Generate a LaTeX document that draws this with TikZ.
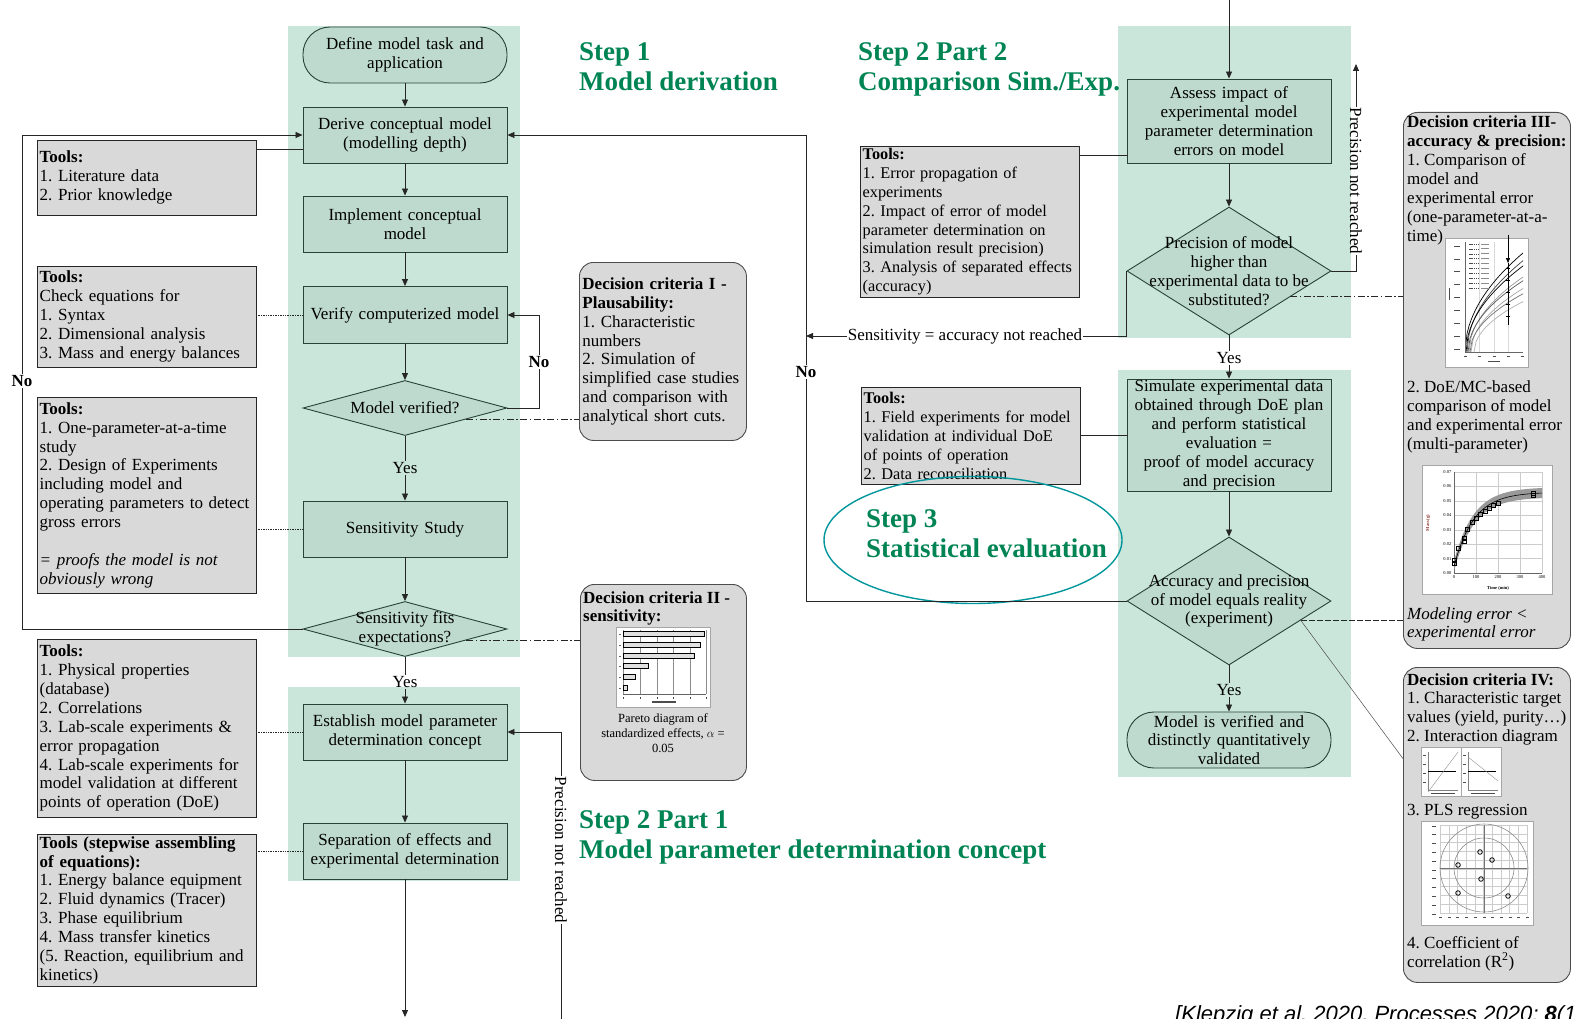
\documentclass[tikz,border=0pt]{standalone}
\usepackage{fontspec}
\setmainfont{Liberation Serif}
\newfontfamily\citefont{Liberation Sans}
\usetikzlibrary{arrows.meta,shapes.geometric,calc}
\frenchspacing

\definecolor{panelgreen}{RGB}{202,229,218}
\definecolor{nodegreen}{RGB}{190,218,206}
\definecolor{nodeline}{RGB}{40,66,54}
\definecolor{toolgray}{RGB}{217,217,217}
\definecolor{stepgreen}{RGB}{0,132,84}
\definecolor{ringteal}{RGB}{0,150,155}
\definecolor{axisred}{RGB}{140,50,40}

\newcommand{\boxfont}{\fontsize{17}{18.9}\selectfont}
\newcommand{\narrowfont}{\fontsize{16.3}{18.9}\selectfont}
\newcommand{\titlefont}{\bfseries\fontsize{27}{30}\selectfont}
\newcommand{\tickfont}{\fontsize{4.5}{5}\selectfont}

\tikzset{
  panel/.style={fill=panelgreen},
  process/.style={rectangle, draw=nodeline, fill=nodegreen, line width=0.9pt,
    minimum width=204pt, minimum height=56pt, text width=198pt, align=center,
    inner xsep=3pt, inner ysep=1pt, font=\boxfont},
  terminal/.style={process, rounded corners=27pt},
  decision/.style={diamond, draw=nodeline, fill=nodegreen, line width=0.9pt,
    minimum width=204pt, minimum height=#1, inner sep=0pt},
  decisiontext/.style={align=center, font=\boxfont, inner sep=0pt},
  toolbox/.style={rectangle, draw=black!85, fill=toolgray, anchor=north west,
    text width=214pt, align=left, inner xsep=2.5pt, inner ysep=1pt, font=\boxfont},
  critbox/.style={rectangle, rounded corners=14pt, draw=black!70, fill=toolgray,
    anchor=north west, line width=0.9pt},
  crittext/.style={anchor=north west, align=left, inner sep=0pt, font=\boxfont},
  flowlabel/.style={font=\boxfont, inner sep=1pt},
  nolabel/.style={font=\boxfont\bfseries, inner sep=1pt},
  steptitle/.style={anchor=north west, align=left, inner sep=0pt,
    text=stepgreen, font=\titlefont},
  flow/.style={draw=black!85, line width=0.8pt, -{Triangle[length=7pt,width=6pt]}},
  plain/.style={draw=black!85, line width=0.8pt},
  toollink/.style={draw=black!85, line width=0.7pt, densely dotted},
  critlink/.style={draw=black!85, line width=0.7pt,
    dash pattern=on 7pt off 2.5pt on 1.5pt off 2.5pt},
  chartframe/.style={fill=white, draw=black!35, line width=0.5pt},
  ticklabel/.style={font=\tickfont, inner sep=0.5pt}
}

\begin{document}
\begin{tikzpicture}[x=1pt, y=-1pt]

  \useasboundingbox (0,0) rectangle (1574,1019);

  \fill[panel] (288,26) rectangle (520,657);
  \fill[panel] (288,687) rectangle (520,881);
  \fill[panel] (1118,26) rectangle (1351,338);
  \fill[panel] (1118,370) rectangle (1351,777);

  \node[terminal] (define) at (405,55) {Define model task and\\application};
  \node[process] (derive) at (405,135) {Derive conceptual model\\(modelling depth)};
  \node[process] (implement) at (405,224) {Implement conceptual\\model};
  \node[process, minimum height=57pt] (verify) at (405,315) {Verify computerized model};
  \node[decision=55pt] (verified) at (405,408) {};
  \node[process] (sensitivity) at (405,529) {Sensitivity Study};
  \node[decision=55pt] (fits) at (405,629) {};
  \node[process] (establish) at (405,732) {Establish model parameter\\determination concept};
  \node[process] (separation) at (405,851) {Separation of effects and\\experimental determination};

  \node[process, minimum height=84pt] (assess) at (1229,121)
    {Assess impact of\\experimental model\\parameter determination\\errors on model};
  \node[decision=128pt] (precision) at (1229,271) {};
  \node[process, minimum height=111pt] (simulate) at (1229,435)
    {Simulate experimental data\\obtained through DoE plan\\and perform statistical\\evaluation =\\proof of model accuracy\\and precision};
  \node[decision=128pt] (accuracy) at (1229,601) {};
  \node[terminal, inner ysep=0pt] (validated) at (1229,740)
    {Model is verified and\\distinctly quantitatively\\validated};

  \node[decisiontext] (verified-text) at (verified) {Model verified?};
  \node[decisiontext] (fits-text) at (fits) {Sensitivity fits\\expectations?};
  \node[decisiontext] (precision-text) at (precision)
    {Precision of model\\higher than\\experimental data to be\\substituted?};
  \node[decisiontext] (accuracy-text) at (accuracy)
    {Accuracy and precision\\of model equals reality\\(experiment)};

  \node[toolbox, minimum height=75pt] (tools1) at (37,140)
    {\textbf{Tools:}\\1. Literature data\\2. Prior knowledge};
  \node[toolbox, minimum height=101pt] (tools2) at (37,266)
    {\textbf{Tools:}\\Check equations for\\1. Syntax\\2. Dimensional analysis\\3. Mass and energy balances};
  \node[toolbox, minimum height=196pt] (tools3) at (37,397)
    {\textbf{Tools:}\\1. One-parameter-at-a-time\\study\\2. Design of Experiments\\including model and\\operating parameters to detect\\gross errors\\[18.9pt]\textit{= proofs the model is not}\\\textit{obviously wrong}};
  \node[toolbox, minimum height=178pt] (tools4) at (37,639)
    {\textbf{Tools:}\\1. Physical properties\\(database)\\2. Correlations\\3. Lab-scale experiments \&\\error propagation\\4. Lab-scale experiments for\\model validation at different\\points of operation (DoE)};
  \node[toolbox, minimum height=152pt] (tools5) at (37,834)
    {\textbf{Tools (stepwise assembling}\\\textbf{of equations):}\\1. Energy balance equipment\\2. Fluid dynamics (Tracer)\\3. Phase equilibrium\\4. Mass transfer kinetics\\(5. Reaction, equilibrium and\\kinetics)};
  \node[toolbox, font=\narrowfont, minimum height=151pt] (tools6) at (860,146)
    {\textbf{Tools:}\\1. Error propagation of\\experiments\\2. Impact of error of model\\parameter determination on\\simulation result precision)\\3. Analysis of separated effects\\(accuracy)};
  \node[toolbox, font=\narrowfont, minimum height=97pt] (tools7) at (861,387)
    {\textbf{Tools:}\\1. Field experiments for model\\validation at individual DoE\\of points of operation\\2. Data reconciliation};

  \node[critbox, text width=161pt, align=left, inner xsep=3pt, font=\boxfont,
    minimum height=178pt] (crit1) at (579,262)
    {\textbf{Decision criteria I -}\\\textbf{Plausability:}\\1. Characteristic\\numbers\\2. Simulation of\\simplified case studies\\and comparison with\\analytical short cuts.};
  \node[critbox, minimum width=166pt, minimum height=196pt] (crit2) at (580,584) {};
  \node[critbox, minimum width=167pt, minimum height=536pt] (crit3) at (1403,112) {};
  \node[critbox, minimum width=167pt, minimum height=315pt] (crit4) at (1403,667) {};

  \node[crittext] (crit2-title) at (583,591)
    {\textbf{Decision criteria II -}\\\textbf{sensitivity:}};
  \node[align=center, inner sep=0pt, font=\fontsize{12.5}{15}\selectfont] (pareto-caption)
    at (663,733) {Pareto diagram of\\standardized effects, $\alpha$ =\\0.05};
  \node[crittext] (crit3-a) at (1407,116)
    {\textbf{Decision criteria III-}\\\textbf{accuracy \& precision:}\\1. Comparison of\\model and\\experimental error\\(one-parameter-at-a-\\time)};
  \node[crittext] (crit3-b) at (1407,381)
    {2. DoE/MC-based\\comparison of model\\and experimental error\\(multi-parameter)};
  \node[crittext, font=\boxfont\itshape] (crit3-c) at (1407,607)
    {Modeling error <\\experimental error};
  \node[crittext] (crit4-a) at (1407,673)
    {\textbf{Decision criteria IV:}\\1. Characteristic target\\values (yield, purity…)\\2. Interaction diagram};
  \node[crittext] (crit4-b) at (1407,804) {3. PLS regression};
  \node[crittext] (crit4-c) at (1407,936)
    {4. Coefficient of\\correlation (R\textsuperscript{2})};

  \node[steptitle] (step1) at (579,42) {Step 1\\Model derivation};
  \node[steptitle] (step22) at (858,42) {Step 2 Part 2\\Comparison Sim./Exp.};
  \node[steptitle] (step21) at (579,810) {Step 2 Part 1\\Model parameter determination concept};
  \node[steptitle] (step3) at (866,509) {Step 3\\Statistical evaluation};
  \node[ellipse, draw=ringteal, line width=1.4pt, minimum width=298pt,
    minimum height=127pt, inner sep=0pt] (step3-ring) at (973,540) {};

  \node[flowlabel] (yes1) at (405,468) {Yes};
  \node[flowlabel] (yes2) at (405,682) {Yes};
  \node[flowlabel] (yes3) at (1229,358) {Yes};
  \node[flowlabel] (yes4) at (1229,690) {Yes};
  \node[nolabel] (no-left) at (22,381) {No};
  \node[nolabel] (no-right) at (539,362) {No};
  \node[nolabel] (no-big) at (806,372) {No};
  \node[flowlabel] (sens-note) at (965,336) {Sensitivity = accuracy not reached};
  \node[flowlabel, rotate=-90] (prec-note-r) at (1356,181) {Precision not reached};
  \node[flowlabel, rotate=-90] (prec-note-l) at (561,850) {Precision not reached};

  \coordinate (page-top) at (1229,0);
  \coordinate (page-bottom) at (405,1017);
  \coordinate (sens-join) at (806,336);
  \coordinate (prec-top) at (1356,64);
  \coordinate (prec-bottom) at (561,1019);

  \begin{scope}[every edge/.style={flow}]
    \path (define) edge (derive);
    \path (derive) edge (implement);
    \path (implement) edge (verify);
    \path (verify) edge (verified);
    \path (yes1) edge (sensitivity);
    \path (sensitivity) edge (fits);
    \path (yes2) edge (establish);
    \path (establish) edge (separation);
    \path (separation) edge (page-bottom);
    \path (page-top) edge (assess);
    \path (assess) edge (precision);
    \path (yes3) edge (simulate);
    \path (simulate) edge (accuracy);
    \path (yes4) edge (validated);
  \end{scope}

  \draw[plain] (verified) -- (yes1);
  \draw[plain] (fits) -- (yes2);
  \draw[plain] (precision) -- (yes3);
  \draw[plain] (accuracy) -- (yes4);

  \draw[plain] (fits.west) -| (no-left.south);
  \draw[flow] (no-left.north) |- (derive.west);
  \draw[plain] (verified.east) -| (no-right.south);
  \draw[flow] (no-right.north) |- (verify.east);
  \draw[plain] (accuracy.west) -| (no-big.south);
  \draw[flow] (no-big.north) |- (derive.east);
  \draw[plain] (precision.west) |- (sens-note.east);
  \draw[flow] (sens-note.west) -- (sens-join);
  \draw[plain] (precision.east) -| (prec-note-r.east);
  \draw[flow] (prec-note-r.west) -- (prec-top);
  \draw[plain] (prec-bottom) -- (prec-note-l.east);
  \draw[flow] (prec-note-l.west) |- (establish.east);

  \coordinate (derive-tool) at ([yshift=-14pt]derive.west);
  \coordinate (assess-tool) at ([yshift=-34pt]assess.west);
  \draw[plain] (derive-tool) -- (derive-tool -| tools1.east);
  \draw[toollink] (verify.west) -- (verify.west -| tools2.east);
  \draw[toollink] (sensitivity.west) -- (sensitivity.west -| tools3.east);
  \draw[toollink] (establish.west) -- (establish.west -| tools4.east);
  \draw[toollink] (separation.west) -- (separation.west -| tools5.east);
  \draw[plain] (assess-tool) -- (assess-tool -| tools6.east);
  \draw[plain] (simulate.west) -- (simulate.west -| tools7.east);

  \coordinate (verified-edge) at ($(verified.east)!0.4!(verified.south)$);
  \coordinate (fits-edge) at ($(fits.east)!0.4!(fits.south)$);
  \coordinate (precision-edge) at ($(precision.east)!0.4!(precision.south)$);
  \coordinate (accuracy-edge) at ($(accuracy.east)!0.3!(accuracy.south)$);
  \coordinate (crit4-entry) at ($(crit4.north west)!0.29!(crit4.south west)$);
  \draw[critlink] (verified-edge) -- (verified-edge -| crit1.west);
  \draw[critlink] (fits-edge) -- (fits-edge -| crit2.west);
  \draw[critlink] (precision-edge) -- (precision-edge -| crit3.west);
  \draw[draw=black!85, line width=0.7pt, dash pattern=on 6pt off 2pt]
    (accuracy-edge) -- (accuracy-edge -| crit3.west);
  \draw[draw=black!70, line width=0.5pt] (accuracy-edge) -- (crit4-entry);

  % pareto chart
  \draw[chartframe] (616,627) rectangle (710,707);
  \foreach \gx in {623,640,657,673,690,706}
    \draw[black!45, line width=0.4pt] (\gx,630) -- (\gx,694);
  \draw[black!60, line width=0.4pt] (623,694) -- (706,694);
  \foreach \by/\bl in {634/81,645/77,656/71,666/25,677/12,688/4} {
    \draw[fill=black!12, draw=black, line width=0.6pt] (623,\by-2.5) rectangle ++(\bl,5);
    \draw[black!60, line width=0.8pt] (619,\by) -- (620.5,\by);
  }
  \foreach \gx in {623,640,657,673,690,706}
    \draw[black!70, line width=0.8pt] (\gx,697) -- (\gx,698.5);
  \draw[black!70, line width=1.2pt] (652,702) -- (676,702);

  % one-parameter chart
  \draw[chartframe] (1445,238) rectangle (1528,367);
  \begin{scope}
    \clip (1465,242) rectangle (1523,352);
    \foreach \gx in {1479,1494,1508}
      \draw[black!15, line width=0.3pt] (\gx,242) -- (\gx,352);
    \foreach \k/\o/\shade in {13/0/black, 12.2/2/black!75, 11.4/1/black, 10.2/4/black!40,
        9.6/3/black!65, 8.8/6/black!35, 8/5/black!55, 7.2/9/black!30}
      \draw[\shade, line width=0.7pt] plot[domain=0:58, samples=30]
        ({1465+\o+\x},{352-\k*sqrt(\x)});
  \end{scope}
  \draw[black!60, line width=0.4pt] (1465,242) -- (1465,352) -- (1523,352);
  \foreach \ly in {0,...,9} {
    \draw[black!70, line width=0.5pt, dash pattern=on 1.5pt off 0.8pt]
      (1469,244+4.9*\ly) -- (1479,244+4.9*\ly);
    \draw[black!45, line width=0.9pt] (1481,244+4.9*\ly) -- (1489,244+4.9*\ly);
  }
  \foreach \ly in {0,...,8}
    \draw[black!70, line width=0.8pt] (1454,246+12.9*\ly) -- (1460,246+12.9*\ly);
  \draw[black!70, line width=1pt] (1449,288) -- (1449,300);
  \foreach \lx in {1465,1479,1494,1508,1522}
    \draw[black!70, line width=0.8pt] (\lx-1.5,356) -- (\lx+1.5,356);
  \draw[black!70, line width=0.8pt] (1488,361) -- (1500,361);
  \draw[-{Triangle[length=5pt,width=4pt]}, line width=0.6pt] (1508,235) -- (1508,263);
  \draw[black, line width=1pt] (1508,263) -- (1508,325);
  \foreach \ey in {268,280,292,304,316}
    \draw[black, line width=0.5pt] (1506,\ey) -- (1510,\ey);

  % multi-parameter chart
  \draw[chartframe] (1422,465) rectangle (1552,594);
  \foreach \gy in {0,...,7}
    \draw[black!20, line width=0.3pt] (1454,573-14.43*\gy) -- (1542,573-14.43*\gy);
  \foreach \gx in {0,...,4}
    \draw[black!20, line width=0.3pt] (1454+22*\gx,472) -- (1454+22*\gx,573);
  \draw[black!60, line width=0.4pt] (1454,472) -- (1454,573) -- (1542,573);
  \fill[black!40] plot[domain=0:400, samples=40]
      ({1454+0.22*\x},{573-1443*(0.056*(1-exp(-(\x+8)/90))+0.0035)})
    -- plot[domain=400:0, samples=40]
      ({1454+0.22*\x},{573-1443*(0.056*(1-exp(-(\x+8)/90))-0.0035)}) -- cycle;
  \draw[black, line width=0.6pt] plot[domain=0:400, samples=40]
    ({1454+0.22*\x},{573-1443*0.056*(1-exp(-(\x+8)/90))});
  \foreach \t/\m in {0/0.007,2/0.009,20/0.017,45/0.024,46/0.022,62/0.030,82/0.035,
      100/0.038,120/0.041,140/0.043,160/0.045,180/0.047,200/0.048,360/0.054,361/0.055}
    \draw[black, line width=0.6pt] ({1454+0.22*\t-2},{573-1443*\m-2}) rectangle ++(4,4);
  \foreach \gy/\lab in {0/0.00,1/0.01,2/0.02,3/0.03,4/0.04,5/0.05,6/0.06,7/0.07}
    \node[ticklabel, anchor=east] (mass-tick\gy) at (1452,573-14.43*\gy) {\lab};
  \foreach \gx/\lab in {0/0,1/100,2/200,3/300,4/400}
    \node[ticklabel, anchor=north] (time-tick\gx) at (1454+22*\gx,575) {\lab};
  \node[ticklabel, font=\tickfont\bfseries] (time-axis) at (1498,588) {Time (min)};
  \node[ticklabel, font=\tickfont\bfseries, text=axisred, rotate=90] (mass-axis)
    at (1428,523) {Mass (g)};

  % interaction diagrams
  \foreach \px in {1421,1461} {
    \draw[chartframe] (\px,747) rectangle ++(40,49);
    \draw[black!50, line width=0.3pt] (\px+7,752) -- (\px+7,790) -- (\px+37,790);
    \foreach \ty in {755,764,773,782}
      \draw[black!70, line width=0.7pt] (\px+2,\ty) -- (\px+5,\ty);
    \draw[black!70, line width=0.7pt] (\px+10,793.5) -- (\px+34,793.5);
    \draw[black, line width=1pt] (\px+7,771) -- (\px+35,771);
  }
  \draw[black!45, line width=0.4pt] (1428,792) -- (1458,752);
  \draw[black!45, line width=0.4pt] (1468,757) -- (1498,781);

  % pls regression
  \draw[chartframe] (1421,821) rectangle (1533,925);
  \foreach \g in {0,...,10} {
    \draw[black!20, line width=0.3pt] (1440+8.7*\g,825) -- (1440+8.7*\g,913);
    \draw[black!20, line width=0.3pt] (1440,825+8.8*\g) -- (1527,825+8.8*\g);
  }
  \draw[black!45, line width=0.6pt] (1484,868) circle[radius=44];
  \draw[black!45, line width=0.6pt] (1484,868) circle[radius=30];
  \draw[black!55, line width=0.6pt] (1440,868) -- (1527,868);
  \draw[black!55, line width=0.6pt] (1484,825) -- (1484,913);
  \foreach \g in {0,...,10} {
    \draw[black!70, line width=0.7pt] (1432,826+8.8*\g) -- (1436,826+8.8*\g);
    \draw[black!70, line width=0.7pt] (1439+8.7*\g,917) -- (1442+8.7*\g,917);
  }
  \foreach \qx/\qy in {1480/852,1492/860,1458/865,1481/879,1458/893,1508/896}
    \draw[black, line width=0.8pt] (\qx,\qy) circle[radius=2.3];

  \node[anchor=base west, inner sep=0pt,
    font=\citefont\itshape\fontsize{22}{24}\selectfont] (citation) at (1175,1021)
    {[Klepzig et al. 2020, Processes 2020; \textbf{8}(10};

\end{tikzpicture}
\end{document}
